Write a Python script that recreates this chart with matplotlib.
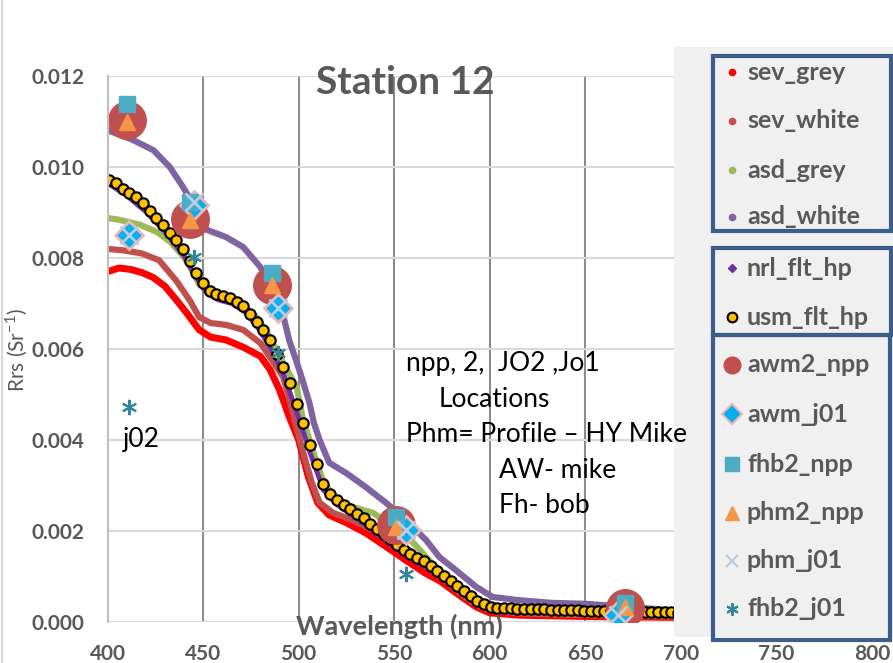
import numpy as np
import matplotlib
matplotlib.use("Agg")
import matplotlib.pyplot as plt
from matplotlib.lines import Line2D
from matplotlib.patches import Rectangle

plt.rcParams["font.family"] = ["Lato", "DejaVu Sans"]
plt.rcParams["mathtext.fontset"] = "custom"
plt.rcParams["mathtext.rm"] = "Lato"

W, H = 893, 663
GREY_TXT = "#595959"

# --- hyperspectral radiometers (drawn as continuous traces) ---
sev_grey_wl = [400, 406, 412, 418, 424, 430, 436, 442, 448, 454, 462, 471, 480, 485, 490, 495,
               500, 505, 510, 516, 525, 535, 546, 556, 566, 574, 584, 593, 600, 615, 650, 700]
sev_grey = [0.00770, 0.00778, 0.00775, 0.00768, 0.00757, 0.00738, 0.00708, 0.00676, 0.00642,
            0.00626, 0.00620, 0.00604, 0.00584, 0.00555, 0.00510, 0.00452, 0.00400, 0.00320,
            0.00262, 0.00235, 0.00218, 0.00196, 0.00165, 0.00136, 0.00108, 0.00090, 0.00059,
            0.00033, 0.00020, 0.00015, 0.00012, 0.00010]

sev_white_wl = [400, 408, 418, 427, 436, 443, 448, 454, 462, 471, 480, 486, 492, 497, 502, 507,
                511, 518, 528, 539, 549, 560, 567, 575, 584, 593, 600, 615, 650, 700]
sev_white = [0.00820, 0.00817, 0.00810, 0.00795, 0.00750, 0.00707, 0.00670, 0.00657, 0.00653,
             0.00642, 0.00613, 0.00576, 0.00538, 0.00460, 0.00378, 0.00305, 0.00262, 0.00240,
             0.00224, 0.00202, 0.00180, 0.00152, 0.00121, 0.00098, 0.00065, 0.00038, 0.00026,
             0.00019, 0.00015, 0.00012]

asd_grey_wl = [400, 406, 417, 426, 433, 440, 445, 448, 455, 462, 470, 478, 485, 492, 499, 502,
               509, 512, 518, 528, 539, 549, 560, 570, 580, 590, 600, 615, 650, 700]
asd_grey = [0.00888, 0.00884, 0.00873, 0.00857, 0.00835, 0.00802, 0.00767, 0.00742, 0.00728,
            0.00716, 0.00700, 0.00670, 0.00625, 0.00569, 0.00516, 0.00450, 0.00356, 0.00319,
            0.00275, 0.00253, 0.00240, 0.00209, 0.00174, 0.00128, 0.00093, 0.00058, 0.00035,
            0.00029, 0.00026, 0.00022]

asd_white_wl = [400, 413, 424, 432.6, 439.5, 446.7, 452, 462, 471, 480, 486, 491.6, 495, 498.6,
                502, 505.7, 508, 511, 516, 525, 535, 546, 556, 566.7, 573.6, 584, 593, 601.5,
                615, 632.5, 650, 670, 694, 700]
asd_white = [0.01081, 0.01060, 0.01037, 0.01000, 0.00956, 0.00906, 0.00862, 0.00846, 0.00824,
             0.00780, 0.00730, 0.00680, 0.00620, 0.00576, 0.00532, 0.00481, 0.00437, 0.00400,
             0.00350, 0.00327, 0.00297, 0.00261, 0.00224, 0.00180, 0.00143, 0.00108, 0.00077,
             0.00055, 0.00048, 0.00042, 0.00040, 0.00034, 0.00026, 0.00025]

nrl_wl = [401, 410, 420, 430, 440, 446, 452, 458, 465, 472, 479, 486, 492, 499, 506, 513, 520,
          530, 540, 550, 560, 570, 580, 590, 600, 620, 650, 700]
nrl_flt_hp = [0.00962, 0.00937, 0.00902, 0.00858, 0.00805, 0.00760, 0.00722, 0.00708, 0.00700,
              0.00681, 0.00645, 0.00597, 0.00546, 0.00462, 0.00372, 0.00290, 0.00258, 0.00229,
              0.00197, 0.00165, 0.00136, 0.00113, 0.00081, 0.00050, 0.00028, 0.00022, 0.00019,
              0.00014]

# usm_flt_hp samples every 3.5 nm from 401 nm
usm_wl = np.arange(401, 700, 3.5)
usm_flt_hp = [0.00971, 0.00964, 0.00952, 0.00943, 0.00934, 0.00921, 0.00904, 0.00887, 0.00872,
              0.00855, 0.00840, 0.00820, 0.00793, 0.00768, 0.00746, 0.00728, 0.00721, 0.00716,
              0.00712, 0.00704, 0.00694, 0.00678, 0.00660, 0.00641, 0.00620, 0.00589, 0.00561,
              0.00526, 0.00480, 0.00438, 0.00390, 0.00347, 0.00304, 0.00282, 0.00268, 0.00257,
              0.00248, 0.00238, 0.00229, 0.00216, 0.00204, 0.00193, 0.00183, 0.00170, 0.00158,
              0.00149, 0.00140, 0.00133, 0.00123, 0.00113, 0.00102, 0.00090, 0.00080, 0.00069,
              0.00058, 0.00047, 0.00039, 0.00034, 0.00031, 0.00030, 0.00030, 0.00029, 0.00029,
              0.00028, 0.00028, 0.00028, 0.00027, 0.00027, 0.00026, 0.00026, 0.00026, 0.00025,
              0.00025, 0.00025, 0.00024, 0.00024, 0.00024, 0.00023, 0.00023, 0.00023, 0.00022,
              0.00022, 0.00022, 0.00021, 0.00021, 0.00020]
usm_wl = usm_wl[:len(usm_flt_hp)]

# --- satellite band matchups ---
npp_bands = [410, 443, 486, 551, 671]
j01_bands = [411, 445, 489, 556, 667]
awm2_npp = [0.01103, 0.00886, 0.00741, 0.00213, 0.00031]
fhb2_npp = [0.01138, 0.00923, 0.00767, 0.00231, 0.00042]
phm2_npp = [0.01099, 0.00884, 0.00740, 0.00209, 0.00033]
awm_j01 = [0.00850, 0.00916, 0.00690, 0.00202, 0.00015]
phm_j01 = [0.00850, 0.00922, 0.00690, 0.00202, 0.00015]
fhb2_j01_wl = [411, 445, 489, 556]
fhb2_j01 = [0.00473, 0.00802, 0.00591, 0.00105]

notes = ["npp, 2,  JO2 ,Jo1", "Locations", "Phm= Profile \u2013 HY Mike", "AW- mike", "Fh- bob"]
notes_x = [556, 573.5, 556, 604.8, 604.8]
notes_y = [0.00569, 0.00490, 0.00411, 0.00334, 0.00257]

ASTERISK = (6, 2, 0)

fig = plt.figure(figsize=(W / 100, H / 100), dpi=100)
ax = fig.add_axes([107.5 / W, 41 / H, (872 - 107.5) / W, (622 - 76) / H])
ax.set_xlim(400, 800)
ax.set_ylim(0, 0.012)
ax.set_xticks(np.arange(400, 801, 50))
ax.set_yticks(np.arange(0, 0.0121, 0.002))
ax.set_yticklabels([f"{v:.3f}" for v in np.arange(0, 0.0121, 0.002)])
ax.tick_params(length=0, labelsize=15, labelcolor=GREY_TXT, pad=16.5)
ax.tick_params(axis="x", pad=16)
for lab in ax.get_xticklabels() + ax.get_yticklabels():
    lab.set_fontweight("bold")
for s in ("top", "right", "bottom"):
    ax.spines[s].set_visible(False)
ax.spines["left"].set_color("#BFBFBF")
ax.spines["left"].set_linewidth(1.5)
ax.grid(axis="y", color="#D9D9D9", lw=1.5)
ax.grid(axis="x", color="#8C8C8C", lw=1.5)
ax.xaxis.get_gridlines()[0].set_visible(False)
ax.set_axisbelow(True)

# spectra
ax.plot(sev_grey_wl, sev_grey, color="#FF0000", lw=5, solid_capstyle="round")
ax.plot(sev_white_wl, sev_white, color="#C0504D", lw=4.5, solid_capstyle="round")
ax.plot(asd_grey_wl, asd_grey, color="#9BBB59", lw=4.5, solid_capstyle="round")
ax.plot(asd_white_wl, asd_white, color="#8064A2", lw=4.5, solid_capstyle="round")
ax.plot(nrl_wl, nrl_flt_hp, color="#7030A0", lw=3.5, solid_capstyle="round")
ax.plot(usm_wl, usm_flt_hp, ls="none", marker="o", ms=7.5, mfc="#FFC000", mec="black", mew=1.5)

# band matchups
ax.plot(npp_bands, awm2_npp, ls="none", marker="o", ms=27, color="#C0504D")
ax.plot(j01_bands, awm_j01, ls="none", marker="D", ms=14, mfc="#00B0F0", mec="#E6B9B8", mew=2)
ax.plot(npp_bands, fhb2_npp, ls="none", marker="s", ms=12, color="#4BACC6")
ax.plot(npp_bands, phm2_npp, ls="none", marker="^", ms=12, color="#F79646")
ax.plot(j01_bands, phm_j01, ls="none", marker="x", ms=13, mew=2, color="#B9CDE5")
ax.plot(fhb2_j01_wl, fhb2_j01, ls="none", marker=ASTERISK, ms=11, mew=1.5, color="#31859C")

ax.text(408, 0.0040, "j02", fontsize=19, va="center", ha="left", color="black")
# notes sit above the legend panel, so they belong to the figure layer
for tx, ty, t in zip(notes_x, notes_y, notes):
    fig.text(tx, ty, t, transform=ax.transData, fontsize=19, va="center", ha="left",
             color="black", zorder=8)

fig.text(399 / W, 1 - 626 / H, "Wavelength (nm)", fontsize=19.5, fontweight="bold",
         color=GREY_TXT, ha="center", va="center")
fig.text(405 / W, 1 - 83 / H, "Station 12", fontsize=28, fontweight="bold",
         color=GREY_TXT, ha="center", va="center")
fig.text(17 / W, 1 - 350 / H, "Rrs (Sr$^{-1}$)", rotation=90, fontsize=15,
         color=GREY_TXT, ha="center", va="center")

# chart-area edge on the left
fig.add_artist(Line2D([2 / W, 2 / W], [0, 1], color="#D9D9D9", lw=1.5, transform=fig.transFigure))


def px(x, y):
    return x / W, 1 - y / H


# grey legend panel
x0, y0 = px(674, 637)
fig.add_artist(Rectangle((x0, y0), (893 - 674) / W, (637 - 47) / H, transform=fig.transFigure,
                         facecolor="#F0F0F0", edgecolor="none", zorder=4))

BOX_EDGE = "#3B5E8C"
boxes = [
    ((713, 56, 891, 231), [
        ("sev_grey", dict(marker="o", ms=4.5, color="#FF0000")),
        ("sev_white", dict(marker="o", ms=4.5, color="#C0504D")),
        ("asd_grey", dict(marker="o", ms=4.5, color="#9BBB59")),
        ("asd_white", dict(marker="o", ms=4.5, color="#8064A2")),
    ], [72, 121, 170, 217]),
    ((713, 248, 891, 335), [
        ("nrl_flt_hp", dict(marker="D", ms=4.5, color="#7030A0")),
        ("usm_flt_hp", dict(marker="o", ms=7, mfc="#FFC000", mec="black", mew=1.5)),
    ], [268, 317]),
    ((713, 335, 890, 640), [
        ("awm2_npp", dict(marker="o", ms=12, color="#C0504D")),
        ("awm_j01", dict(marker="D", ms=10, mfc="#00B0F0", mec="#E6B9B8", mew=1.5)),
        ("fhb2_npp", dict(marker="s", ms=10, color="#4BACC6")),
        ("phm2_npp", dict(marker="^", ms=10, color="#F79646")),
        ("phm_j01", dict(marker="x", ms=9, mew=1.5, color="#B9CDE5")),
        ("fhb2_j01", dict(marker=ASTERISK, ms=9, mew=1.5, color="#31859C")),
    ], [365, 414, 464, 513, 561, 609]),
]

for (l, t, r, b), entries, rows in boxes:
    bx, by = px(l, b)
    rect = Rectangle((bx, by), (r - l) / W, (b - t) / H, transform=fig.transFigure,
                     facecolor="none", edgecolor=BOX_EDGE, lw=3, zorder=7)
    fig.add_artist(rect)
    for (label, style), ry in zip(entries, rows):
        mx, my = px(732, ry)
        fig.add_artist(Line2D([mx], [my], ls="none", transform=fig.transFigure, zorder=6, **style))
        tx, ty = px(747, ry)
        txt = fig.text(tx, ty, label, fontsize=18, fontweight="bold", color=GREY_TXT,
                       ha="left", va="center", zorder=6)
        txt.set_clip_path(rect)

fig.savefig("out.png", dpi=100)
